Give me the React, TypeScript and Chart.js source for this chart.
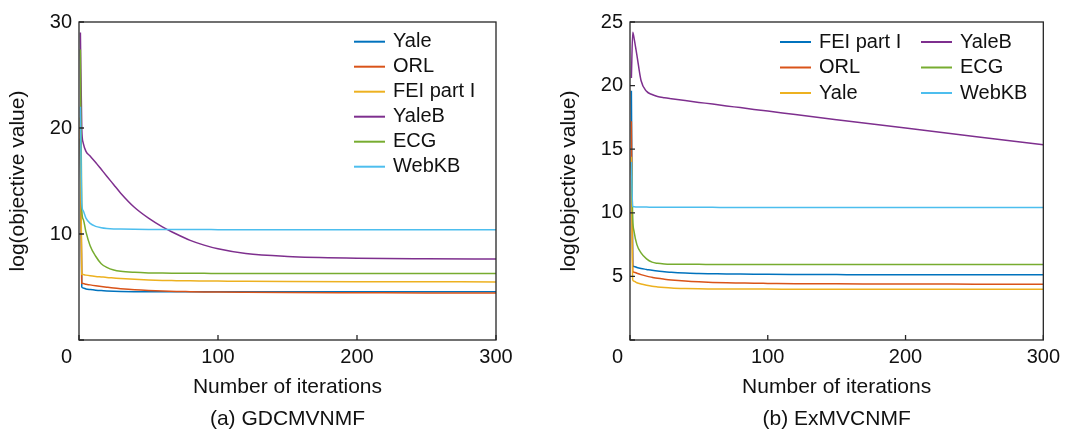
import React, { useEffect, useRef } from 'react';
import { Chart, registerables } from 'chart.js';

Chart.register(...registerables);

const iterations = [1, 2, 3, 5, 8, 12, 16, 20, 25, 30, 40, 50, 60, 70, 80, 90, 100, 120, 150, 200, 250, 300];

// (a) GDCMVNMF
const aLabels = ['Yale', 'ORL', 'FEI part I', 'YaleB', 'ECG', 'WebKB'];
const aYale = [19.0, 5.0, 4.9, 4.82, 4.76, 4.7, 4.66, 4.63, 4.6, 4.58, 4.56, 4.55, 4.55, 4.55, 4.55, 4.55, 4.55, 4.55, 4.55, 4.55, 4.55, 4.55];
const aORL = [20.0, 5.35, 5.32, 5.27, 5.2, 5.12, 5.05, 4.98, 4.9, 4.84, 4.74, 4.67, 4.62, 4.58, 4.56, 4.54, 4.52, 4.5, 4.48, 4.46, 4.44, 4.43];
const aFEI = [21.0, 6.2, 6.17, 6.12, 6.06, 6.0, 5.95, 5.9, 5.85, 5.8, 5.72, 5.66, 5.62, 5.6, 5.58, 5.57, 5.56, 5.54, 5.52, 5.5, 5.49, 5.48];
const aYaleB = [29.0, 19.9, 18.6, 17.8, 17.35, 16.75, 16.1, 15.45, 14.65, 13.85, 12.5, 11.5, 10.68, 10.0, 9.4, 8.95, 8.6, 8.15, 7.88, 7.72, 7.66, 7.63];
const aECG = [27.4, 12.3, 11.4, 10.2, 8.9, 7.9, 7.2, 6.85, 6.6, 6.48, 6.38, 6.33, 6.31, 6.3, 6.29, 6.29, 6.28, 6.28, 6.28, 6.27, 6.27, 6.27];
const aWebKB = [22.0, 12.9, 12.2, 11.5, 11.0, 10.72, 10.6, 10.53, 10.48, 10.46, 10.44, 10.43, 10.43, 10.42, 10.42, 10.42, 10.41, 10.41, 10.41, 10.4, 10.4, 10.4];

// (b) ExMVCNMF
const bLabels = ['FEI part I', 'ORL', 'Yale', 'YaleB', 'ECG', 'WebKB'];
const bFEI = [19.6, 5.85, 5.78, 5.7, 5.62, 5.55, 5.48, 5.42, 5.37, 5.32, 5.26, 5.23, 5.21, 5.19, 5.18, 5.17, 5.16, 5.15, 5.14, 5.13, 5.13, 5.13];
const bORL = [17.2, 5.4, 5.33, 5.25, 5.14, 5.02, 4.93, 4.85, 4.78, 4.72, 4.63, 4.57, 4.53, 4.5, 4.48, 4.46, 4.45, 4.43, 4.42, 4.4, 4.39, 4.38];
const bYale = [14.4, 4.72, 4.62, 4.5, 4.4, 4.3, 4.22, 4.17, 4.12, 4.08, 4.04, 4.02, 4.01, 4.0, 4.0, 4.0, 4.0, 3.99, 3.99, 3.99, 3.99, 3.99];
const bYaleB = [20.6, 24.2, 23.7, 22.4, 20.4, 19.55, 19.3, 19.15, 19.05, 18.97, 18.82, 18.68, 18.55, 18.4, 18.27, 18.13, 18.0, 17.72, 17.32, 16.67, 16.0, 15.35];
const bECG = [14.0, 9.5, 8.5, 7.5, 6.85, 6.38, 6.12, 6.03, 5.98, 5.96, 5.95, 5.95, 5.94, 5.94, 5.94, 5.94, 5.94, 5.94, 5.94, 5.94, 5.94, 5.94];
const bWebKB = [14.0, 10.5, 10.47, 10.46, 10.45, 10.45, 10.44, 10.44, 10.44, 10.43, 10.43, 10.43, 10.43, 10.42, 10.42, 10.42, 10.42, 10.42, 10.41, 10.41, 10.41, 10.41];

const COLORS = ['#0072BD', '#D95319', '#EDB120', '#7E2F8E', '#77AC30', '#4DBEEE'];
const FONT = '"Liberation Sans", Arial, Helvetica, sans-serif';
const INK = '#111111';

const framePlugin = {
  id: 'frame',
  afterDraw(chart: any, _args: any, opts: any) {
    const { ctx, chartArea: a } = chart;
    const x = chart.scales.x;
    const y = chart.scales.y;
    ctx.save();
    ctx.strokeStyle = '#262626';
    ctx.lineWidth = 1.3;
    ctx.strokeRect(a.left, a.top, a.right - a.left, a.bottom - a.top);
    ctx.beginPath();
    x.ticks.forEach((t: any) => {
      const px = x.getPixelForValue(t.value);
      ctx.moveTo(px, a.bottom);
      ctx.lineTo(px, a.bottom - 5);
    });
    y.ticks.forEach((t: any) => {
      const py = y.getPixelForValue(t.value);
      ctx.moveTo(a.left, py);
      ctx.lineTo(a.left + 5, py);
    });
    ctx.stroke();

    // corner "0" label
    ctx.font = `20px ${FONT}`;
    ctx.fillStyle = INK;
    ctx.textAlign = 'right';
    ctx.textBaseline = 'middle';
    ctx.fillText('0', x.getPixelForValue(0) - 7, a.bottom + 17);

    // legend
    const rows: number = opts.rows;
    const cols: number[] = opts.cols;
    chart.data.datasets.forEach((ds: any, i: number) => {
      const c = Math.floor(i / rows);
      const r = i % rows;
      const lx = a.left + cols[c];
      const ly = a.top + opts.top + r * opts.step;
      ctx.strokeStyle = ds.borderColor;
      ctx.lineWidth = 2;
      ctx.beginPath();
      ctx.moveTo(lx, ly);
      ctx.lineTo(lx + 31, ly);
      ctx.stroke();
      ctx.fillStyle = INK;
      ctx.textAlign = 'left';
      ctx.textBaseline = 'middle';
      ctx.font = `20px ${FONT}`;
      ctx.fillText(ds.label, lx + 39, ly);
    });
    ctx.restore();
  },
};

function makeConfig(labels: string[], series: number[][], yMax: number, yStep: number, caption: string, rightPad: number, legend: any) {
  return {
    type: 'line' as const,
    data: {
      datasets: series.map((s, i) => ({
        label: labels[i],
        data: s.map((v, k) => ({ x: iterations[k], y: v })),
        borderColor: COLORS[i],
        backgroundColor: COLORS[i],
        borderWidth: 1.5,
        pointRadius: 0,
        cubicInterpolationMode: 'monotone' as const,
        order: series.length - i,
      })),
    },
    options: {
      responsive: false,
      animation: false as const,
      layout: { padding: { left: 0, top: 22, right: rightPad, bottom: 0 } },
      plugins: {
        legend: { display: false },
        tooltip: { enabled: false },
        frame: legend,
      },
      scales: {
        x: {
          type: 'linear' as const,
          min: 0,
          max: 300,
          grid: { display: false, drawTicks: false },
          border: { display: false },
          ticks: {
            stepSize: 100,
            padding: 5,
            color: INK,
            font: { family: FONT, size: 20 },
            callback: (v: any) => (v === 0 ? '' : String(v)),
          },
          title: {
            display: true,
            text: ['Number of iterations', caption],
            color: INK,
            font: { family: FONT, size: 21, lineHeight: 32 / 21 },
            padding: { top: 0, bottom: 0 },
          },
          afterFit: (s: any) => { s.height = 95; },
        },
        y: {
          min: 0,
          max: yMax,
          grid: { display: false, drawTicks: false },
          border: { display: false },
          ticks: {
            stepSize: yStep,
            padding: 7,
            color: INK,
            font: { family: FONT, size: 20 },
            callback: (v: any) => (v === 0 ? '' : String(v)),
          },
          title: {
            display: true,
            text: 'log(objective value)',
            color: INK,
            font: { family: FONT, size: 21 },
            padding: { top: 6, bottom: 0 },
          },
          afterFit: (s: any) => { s.width = 79; },
        },
      },
    },
    plugins: [framePlugin],
  };
}

function ChartCanvas({ config, left, width }: { config: any; left: number; width: number }) {
  const ref = useRef<HTMLCanvasElement | null>(null);
  useEffect(() => {
    if (!ref.current) return;
    const chart = new Chart(ref.current, config);
    return () => chart.destroy();
  }, [config]);
  return (
    <canvas
      ref={ref}
      width={width}
      height={435}
      style={{ position: 'absolute', left, top: 0, width, height: 435, display: 'block' }}
    />
  );
}

const configA = makeConfig(aLabels, [aYale, aORL, aFEI, aYaleB, aECG, aWebKB], 30, 10, '(a) GDCMVNMF', 44,
  { rows: 6, cols: [275], top: 19.7, step: 25 });
const configB = makeConfig(bLabels, [bFEI, bORL, bYale, bYaleB, bECG, bWebKB], 25, 5, '(b) ExMVCNMF', 19,
  { rows: 3, cols: [150, 291], top: 20, step: 25.5 });

export default function App() {
  return (
    <div style={{ position: 'absolute', left: 0, top: 0, width: 1065, height: 435, background: '#fff' }}>
      <ChartCanvas config={configA} left={0} width={540} />
      <ChartCanvas config={configB} left={551} width={514} />
    </div>
  );
}
